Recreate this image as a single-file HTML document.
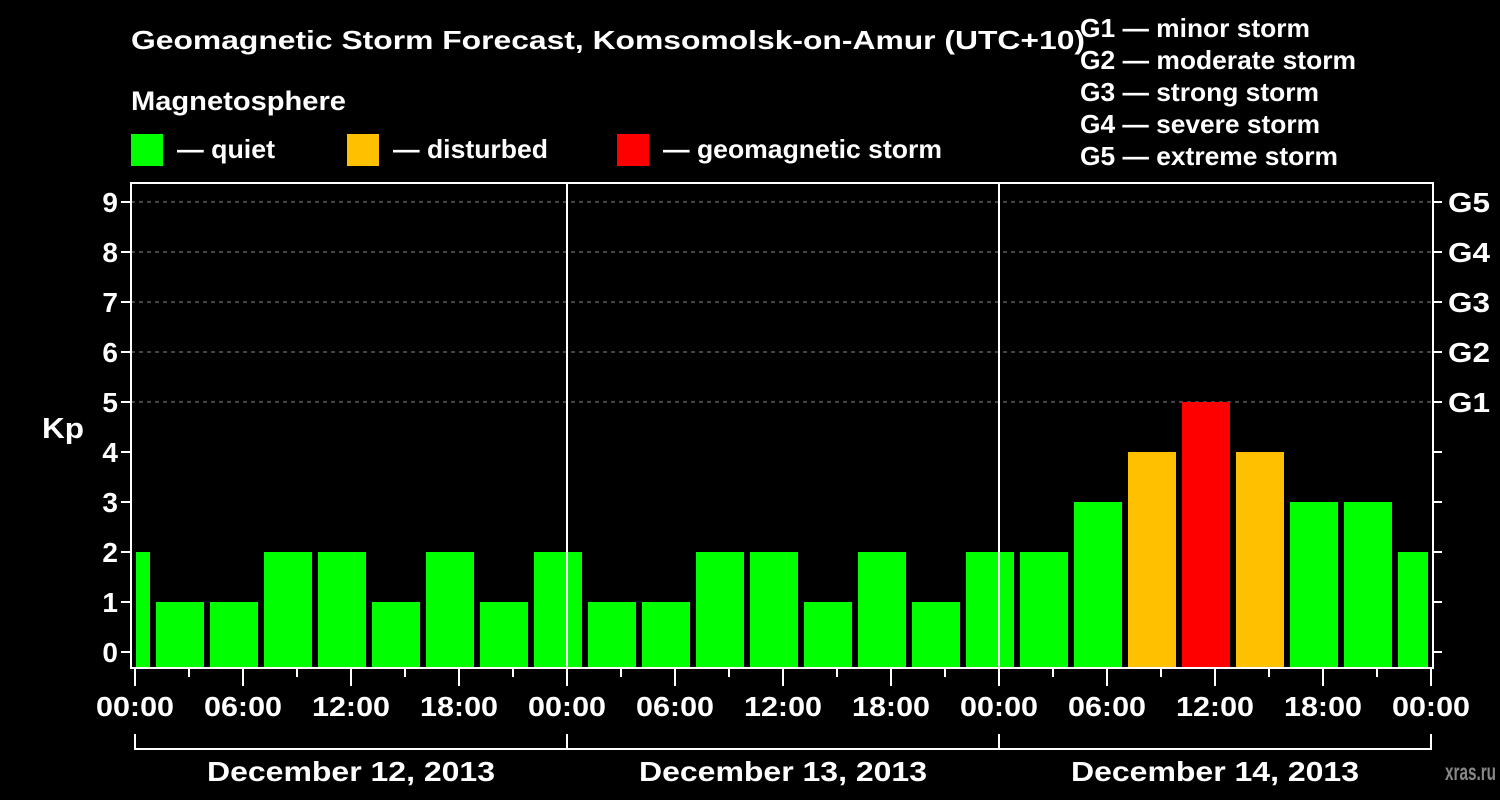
<!DOCTYPE html>
<html><head><meta charset="utf-8"><style>
html,body{margin:0;padding:0;background:#000;width:1500px;height:800px;overflow:hidden}
svg{display:block;font-family:"Liberation Sans",Arial,sans-serif;font-weight:bold}
</style></head><body>
<svg id="chart" width="1500" height="800">
<rect width="1500" height="800" fill="#000"/>
<text x="131" y="49" fill="#fff" font-size="26" textLength="954" lengthAdjust="spacingAndGlyphs">Geomagnetic Storm Forecast, Komsomolsk-on-Amur (UTC+10)</text>
<text x="131" y="110" fill="#fff" font-size="27" textLength="215" lengthAdjust="spacingAndGlyphs">Magnetosphere</text>
<g><rect x="131" y="134" width="32" height="32" fill="#00ff00"/><text x="177" y="158" fill="#fff" font-size="26" textLength="98" lengthAdjust="spacingAndGlyphs">— quiet</text></g>
<g><rect x="347" y="134" width="32" height="32" fill="#ffc000"/><text x="393" y="158" fill="#fff" font-size="26" textLength="155" lengthAdjust="spacingAndGlyphs">— disturbed</text></g>
<g><rect x="617" y="134" width="32" height="32" fill="#ff0000"/><text x="663" y="158" fill="#fff" font-size="26" textLength="279" lengthAdjust="spacingAndGlyphs">— geomagnetic storm</text></g>
<g fill="#fff" font-size="26" lengthAdjust="spacingAndGlyphs">
<text x="1080" y="37" textLength="230" lengthAdjust="spacingAndGlyphs">G1 — minor storm</text>
<text x="1080" y="69" textLength="276" lengthAdjust="spacingAndGlyphs">G2 — moderate storm</text>
<text x="1080" y="101" textLength="239" lengthAdjust="spacingAndGlyphs">G3 — strong storm</text>
<text x="1080" y="133" textLength="240" lengthAdjust="spacingAndGlyphs">G4 — severe storm</text>
<text x="1080" y="165" textLength="258" lengthAdjust="spacingAndGlyphs">G5 — extreme storm</text>
</g>
<text x="42" y="438" fill="#fff" font-size="29" textLength="42" lengthAdjust="spacingAndGlyphs">Kp</text>
<text x="1445" y="780" fill="#888" font-size="23" textLength="51" lengthAdjust="spacingAndGlyphs">xras.ru</text>
<g id="plot"></g>
</svg>
<script>
const kpValues = [2, 1,1,2,2,1,2,1,2, 1,1,2,2,1,2,1,2, 2,3,4,5,4,3,3,2];
const binStartHour = -2;
const binHours = 3;
const dayLabels = ["December 12, 2013","December 13, 2013","December 14, 2013"];
const hourTickLabels = ["00:00","06:00","12:00","18:00"];
const yTicks = [0,1,2,3,4,5,6,7,8,9];
const gLabels = ["G1","G2","G3","G4","G5"];

const NS="http://www.w3.org/2000/svg";
const g=document.getElementById('plot');
const PL=131,PR=1433,PT=183,PB=668;
const X0=135,PXH=18;
const xs=h=>X0+h*PXH;
const ys=v=>652-v*50;
function mk(t,a,p){const e=document.createElementNS(NS,t);for(const k in a)e.setAttribute(k,a[k]);(p||g).appendChild(e);return e;}
const clip=mk('clipPath',{id:'pc'});mk('rect',{x:136,y:PT,width:1428-136,height:PB-PT},clip);
for(let v=5;v<=9;v++){
 const l=mk('line',{x1:PL,x2:PR,y1:ys(v),y2:ys(v),stroke:'#888','stroke-dasharray':'4,4','stroke-width':1});
 
 
}
const bars=mk('g',{'clip-path':'url(#pc)'});
kpValues.forEach((v,i)=>{
 const h0=binStartHour+i*binHours;
 const col=v>=5?'#ff0000':(v>=4?'#ffc000':'#00ff00');
 const r=mk('rect',{x:xs(h0)+3,y:ys(v),width:binHours*PXH-6,height:667-ys(v),fill:col},bars);
 
 
});
for(let d=1;d<dayLabels.length;d++){
 const l=mk('line',{x1:xs(d*24),x2:xs(d*24),y1:PT,y2:PB,stroke:'#fff','stroke-width':2});
 
 
}
const fr=mk('rect',{x:PL,y:PT,width:PR-PL,height:PB-PT,fill:'none',stroke:'#fff','stroke-width':2});


yTicks.forEach(v=>{
 mk('line',{x1:PL-10,x2:PL,y1:ys(v),y2:ys(v),stroke:'#fff','stroke-width':2});
 mk('line',{x1:PR,x2:PR+9,y1:ys(v),y2:ys(v),stroke:'#fff','stroke-width':2});
 const t=mk('text',{x:118,y:ys(v)+10,fill:'#fff','font-size':28,'text-anchor':'end'});
 t.textContent=v;
 
 
});
gLabels.forEach((s,i)=>{
 const t=mk('text',{x:1448,y:ys(5+i)+10,fill:'#fff','font-size':28,textLength:42,lengthAdjust:'spacingAndGlyphs'});
 t.textContent=s;
 
 
});
const nd=dayLabels.length;
for(let h=0;h<=nd*24;h+=3){
 const major=h%6===0;
 mk('line',{x1:xs(h),x2:xs(h),y1:PB,y2:PB+(major?18:9),stroke:'#fff','stroke-width':2});
 if(major){
  const t=mk('text',{x:xs(h),y:716,fill:'#fff','font-size':28,'text-anchor':'middle',textLength:78,lengthAdjust:'spacingAndGlyphs'});
  t.textContent=hourTickLabels[(h%24)/6];
  
  
 }
}
mk('line',{x1:xs(0),x2:xs(nd*24),y1:749,y2:749,stroke:'#fff','stroke-width':2});
for(let d=0;d<=nd;d++)mk('line',{x1:xs(d*24),x2:xs(d*24),y1:734,y2:750,stroke:'#fff','stroke-width':2});
dayLabels.forEach((s,d)=>{
 const t=mk('text',{x:xs(d*24+12),y:781,fill:'#fff','font-size':28,'text-anchor':'middle',textLength:288,lengthAdjust:'spacingAndGlyphs'});
 t.textContent=s;
 
 
});
</script>
</body></html>
